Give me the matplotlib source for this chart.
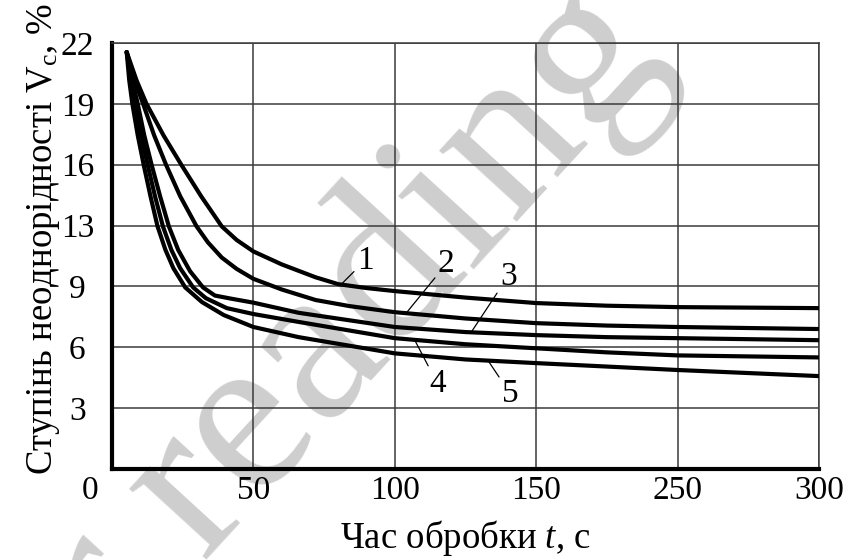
import matplotlib
matplotlib.use("Agg")
import matplotlib.pyplot as plt
import matplotlib.transforms as mtransforms
import numpy as np

plt.rcParams['font.family'] = ['Liberation Serif', 'DejaVu Serif']
plt.rcParams['mathtext.fontset'] = 'custom'
plt.rcParams['mathtext.rm'] = 'Liberation Serif'
plt.rcParams['mathtext.it'] = 'Liberation Serif:italic'

# axis tick values (the printed axes are not linear)
x_ticks = [0, 50, 100, 150, 250, 300]
y_ticks = [0, 3, 6, 9, 13, 16, 19, 22]

# curves 1..5
t1 = [5.2, 8.7, 12.2, 18.2, 24.5, 31.5, 38.8, 44.1, 50, 60, 72, 80, 90, 100, 125, 150, 200, 250, 300]
v1 = [21.55, 20.15, 19.0, 17.45, 16.0, 14.45, 12.95, 12.05, 11.3, 10.45, 9.6, 9.15, 8.92, 8.77,
      8.45, 8.18, 8.05, 7.98, 7.93]

t2 = [5.2, 8.0, 11.0, 14.9, 19.1, 24.1, 29.9, 33.9, 38.8, 44.1, 50, 60, 72, 84, 100, 125, 150, 200, 250, 300]
v2 = [21.55, 20.15, 19.0, 17.45, 16.0, 14.45, 12.95, 11.9, 10.9, 10.15, 9.5, 8.85, 8.33, 8.03, 7.73,
      7.42, 7.19, 7.07, 7.0, 6.9]

t3 = [5.2, 7.2, 9.1, 11.4, 14.0, 17.0, 20.1, 23.4, 27.6, 32.2, 36.4, 42.0, 50, 66, 100, 125, 150, 200, 250, 300]
v3 = [21.55, 20.15, 19.0, 17.45, 16.0, 14.45, 12.95, 11.4, 10.0, 8.95, 8.55, 8.4, 8.2, 7.7, 7.0,
      6.75, 6.6, 6.5, 6.45, 6.35]

t4 = [5.2, 6.8, 8.2, 10.3, 12.6, 15.2, 18.0, 21.0, 24.1, 28.7, 33.2, 40.6, 50, 66, 100, 125, 150, 200, 250, 300]
v4 = [21.55, 20.15, 19.0, 17.45, 16.0, 14.45, 12.95, 11.4, 10.2, 8.95, 8.42, 7.93, 7.64, 7.25, 6.45,
      6.15, 5.95, 5.75, 5.6, 5.5]

t5 = [5.2, 6.1, 7.2, 9.1, 11.2, 13.6, 16.1, 18.9, 21.7, 25.9, 31.8, 39.5, 50, 66, 100, 125, 150, 200, 250, 300]
v5 = [21.55, 20.15, 19.0, 17.45, 16.0, 14.45, 12.95, 11.4, 10.2, 8.95, 8.23, 7.59, 7.0, 6.5, 5.7,
      5.4, 5.22, 5.05, 4.88, 4.58]

curves = [(t1, v1), (t2, v2), (t3, v3), (t4, v4), (t5, v5)]
labels = ['1', '2', '3', '4', '5']
label_at = [81, 104, 127, 107, 133]          # time where each leader touches its curve
label_off = [(24, 24), (40, 49), (37, 56), (23, -44), (22, -33)]  # pixels

xpos = np.arange(len(x_ticks))
ypos = np.arange(len(y_ticks))


def fx(v):
    return np.interp(v, x_ticks, xpos)


def fx_inv(p):
    return np.interp(p, xpos, x_ticks)


def fy(v):
    return np.interp(v, y_ticks, ypos)


def fy_inv(p):
    return np.interp(p, ypos, y_ticks)


fs_tick = 24
fs_lab = 26.5
fig = plt.figure(figsize=(8.47, 5.60), dpi=100)
ax = fig.add_axes([112 / 847, 1 - 469 / 560, (819 - 112) / 847, (469 - 43) / 560])

# watermark
ax.text(0.338, 0.30, 'for reading', transform=fig.transFigure, fontsize=165,
        color='#cecece', rotation=47.5, ha='center', va='center',
        rotation_mode='anchor', zorder=0.2, clip_on=False)

ax.set_xscale('function', functions=(fx, fx_inv))
ax.set_yscale('function', functions=(fy, fy_inv))
ax.set_xlim(0, 300)
ax.set_ylim(0, 22)

for t, v in curves:
    ax.plot(t, v, color='black', lw=3.0, solid_capstyle='round',
            solid_joinstyle='round', zorder=3)

for (t, v), lab, at, off in zip(curves, labels, label_at, label_off):
    ax.annotate(lab, xy=(at, np.interp(at, t, v)), xytext=off,
                textcoords='offset pixels', ha='center', va='center',
                fontsize=fs_tick, zorder=4,
                arrowprops=dict(arrowstyle='-', lw=0.9, color='black',
                                shrinkA=0, shrinkB=0))

ax.set_xticks(x_ticks)
ax.set_xticklabels([str(v) for v in x_ticks])
ax.set_yticks(y_ticks[1:])
ax.set_yticklabels([str(v) for v in y_ticks[1:]])
ax.tick_params(axis='both', length=0, labelsize=fs_tick)
ax.tick_params(axis='x', pad=5)
ax.tick_params(axis='y', pad=25)
for lab in ax.get_yticklabels():
    lab.set_horizontalalignment('center')

# origin label sits left of the corner
zero = ax.get_xticklabels()[0]
zero.set_transform(zero.get_transform() +
                   mtransforms.ScaledTranslation(-22 / 100, 0, fig.dpi_scale_trans))

ax.grid(True, color='#3a3a3a', lw=1.1)
ax.set_axisbelow(True)
for side in ['top', 'right']:
    ax.spines[side].set_linewidth(1.1)
    ax.spines[side].set_color('#3a3a3a')
for side in ['left', 'bottom']:
    ax.spines[side].set_linewidth(3.0)

ax.set_xlabel('Час обробки $\\mathit{t}$, с', fontsize=fs_lab, labelpad=8)
ax.set_ylabel('Ступінь неоднорідності V$_\\mathregular{c}$, %', fontsize=fs_lab)
ax.yaxis.set_label_coords(-0.071, 0.54)

fig.savefig('out.png', dpi=100)
